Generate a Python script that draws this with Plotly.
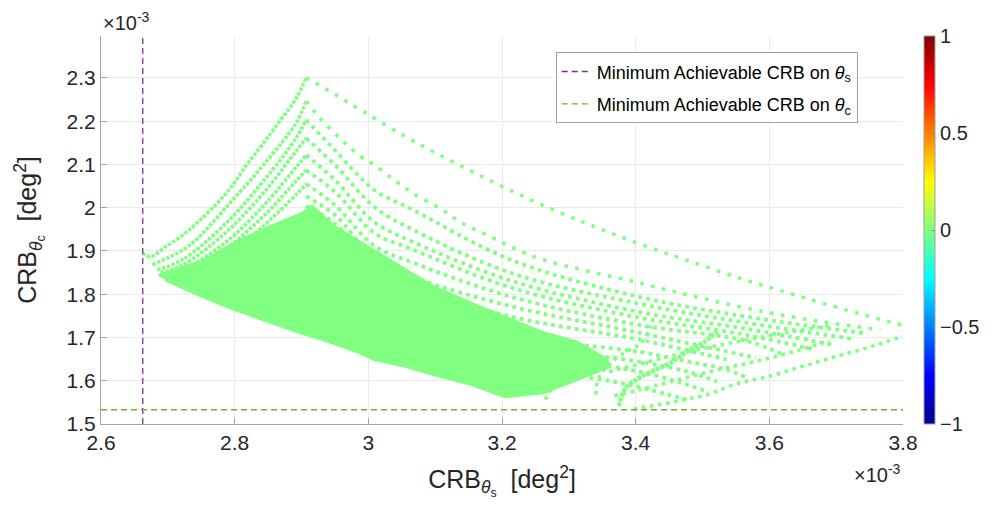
import plotly.graph_objects as go

# ---- values in units of 1e-3 deg^2 (axes carry the x10^-3 multiplier) ----
X_RANGE = [2.6, 3.8]
Y_RANGE = [1.5, 2.397]
X_TICKS = [2.6, 2.8, 3.0, 3.2, 3.4, 3.6, 3.8]
Y_TICKS = [1.5, 1.6, 1.7, 1.8, 1.9, 2.0, 2.1, 2.2, 2.3]

MIN_CRB_S = 2.6625   # minimum achievable CRB on theta_s
MIN_CRB_C = 1.5330   # minimum achievable CRB on theta_c

CB_RANGE = [-1, 1]
CB_TICKS = [-1, -0.5, 0, 0.5, 1]

# densely filled core of the scatter cloud (outline)
DENSE_X = [2.686, 2.755, 2.804, 2.852, 2.901, 2.916, 2.950, 2.999, 3.048, 3.097,
           3.165, 3.214, 3.262, 3.312, 3.353, 3.360, 3.312, 3.262, 3.204, 3.155,
           3.107, 3.057, 3.009, 2.989, 2.940, 2.892, 2.843, 2.794, 2.745, 2.696]
DENSE_Y = [1.843, 1.879, 1.922, 1.956, 1.987, 2.003, 1.956, 1.910, 1.864, 1.818,
           1.772, 1.741, 1.711, 1.690, 1.653, 1.632, 1.602, 1.572, 1.563, 1.591,
           1.610, 1.633, 1.649, 1.664, 1.691, 1.714, 1.741, 1.768, 1.799, 1.833]

# rising arms (upper-left) up to the ridge near CRB_s = 2.907e-3
ASC_X = [
    [2.662, 2.674, 2.696, 2.721, 2.745, 2.770, 2.794, 2.818, 2.843, 2.867, 2.892, 2.907],
    [2.677, 2.723, 2.745, 2.789, 2.848, 2.892, 2.907],
    [2.684, 2.723, 2.789, 2.848, 2.892, 2.907],
    [2.689, 2.723, 2.789, 2.848, 2.892, 2.907],
    [2.695, 2.723, 2.789, 2.848, 2.892, 2.907],
    [2.701, 2.745, 2.789, 2.848, 2.892, 2.907],
    [2.708, 2.745, 2.804, 2.848, 2.892, 2.907],
]
ASC_Y = [
    [1.895, 1.887, 1.909, 1.935, 1.967, 2.004, 2.046, 2.099, 2.149, 2.199, 2.253, 2.301],
    [1.868, 1.903, 1.930, 2.004, 2.108, 2.196, 2.247],
    [1.856, 1.881, 1.967, 2.071, 2.161, 2.203],
    [1.849, 1.868, 1.946, 2.043, 2.131, 2.161],
    [1.843, 1.856, 1.923, 2.013, 2.094, 2.122],
    [1.838, 1.863, 1.907, 1.988, 2.062, 2.087],
    [1.833, 1.852, 1.907, 1.965, 2.030, 2.055],
]

# falling arms from the ridge towards large CRB_s (outer two, sparse dots)
OUTER_X = [
    [2.907, 2.949, 2.994, 3.055, 3.103, 3.152, 3.203, 3.255, 3.310, 3.365, 3.423,
     3.483, 3.564, 3.648, 3.735, 3.798],
    [2.907, 2.928, 2.960, 2.989, 3.009, 3.039, 3.067, 3.107, 3.141, 3.184, 3.221,
     3.263, 3.321, 3.387, 3.447, 3.509, 3.575, 3.648, 3.731, 3.766],
]
OUTER_Y = [
    [2.301, 2.263, 2.221, 2.165, 2.125, 2.086, 2.047, 2.010, 1.974, 1.940, 1.907,
     1.875, 1.833, 1.794, 1.755, 1.729],
    [2.247, 2.207, 2.157, 2.118, 2.099, 2.064, 2.033, 1.999, 1.964, 1.932, 1.904,
     1.879, 1.856, 1.833, 1.810, 1.787, 1.765, 1.744, 1.725, 1.718],
]

# inner falling arms
DESC_X = [
    [2.907, 2.950, 3.009, 3.067, 3.214, 3.405, 3.566, 3.747],
    [2.907, 2.950, 3.009, 3.067, 3.214, 3.405, 3.566, 3.724],
    [2.907, 2.950, 3.009, 3.067, 3.214, 3.405, 3.566, 3.697],
    [2.907, 2.950, 3.009, 3.067, 3.214, 3.405, 3.566, 3.668],
    [2.907, 2.950, 3.009, 3.067, 3.214, 3.405, 3.566, 3.624],
    [2.907, 2.950, 3.009, 3.067, 3.214, 3.405, 3.580],
    [2.907, 2.950, 3.009, 3.067, 3.214, 3.405, 3.536],
    [3.312, 3.405, 3.478, 3.536, 3.566],
    [3.331, 3.405, 3.478, 3.522],
    [3.346, 3.405, 3.463, 3.507],
    [3.331, 3.390, 3.448, 3.478],
]
DESC_Y = [
    [2.203, 2.133, 2.041, 1.995, 1.879, 1.794, 1.748, 1.709],
    [2.161, 2.099, 2.002, 1.949, 1.849, 1.778, 1.734, 1.697],
    [2.122, 2.064, 1.967, 1.921, 1.831, 1.759, 1.720, 1.683],
    [2.087, 2.037, 1.942, 1.903, 1.815, 1.746, 1.706, 1.672],
    [2.055, 2.006, 1.912, 1.873, 1.794, 1.729, 1.692, 1.658],
    [2.027, 1.983, 1.884, 1.840, 1.772, 1.711, 1.653],
    [2.004, 1.963, 1.861, 1.815, 1.748, 1.695, 1.649],
    [1.683, 1.667, 1.644, 1.626, 1.607],
    [1.660, 1.644, 1.621, 1.598],
    [1.637, 1.621, 1.598, 1.575],
    [1.607, 1.591, 1.568, 1.556],
]

# rising families in the lower-right part
RISE_X = [
    [3.397, 3.458, 3.507, 3.551, 3.599, 3.649, 3.697, 3.746, 3.796],
    [3.368, 3.405, 3.453, 3.503, 3.551, 3.599, 3.649, 3.690],
    [3.341, 3.343, 3.356, 3.380, 3.405, 3.415, 3.423],
    [3.265, 3.273, 3.290, 3.316, 3.346, 3.375],
    [3.360, 3.419, 3.478, 3.551, 3.624, 3.697],
]
RISE_Y = [
    [1.534, 1.552, 1.568, 1.593, 1.610, 1.633, 1.655, 1.676, 1.701],
    [1.565, 1.579, 1.598, 1.618, 1.635, 1.652, 1.673, 1.692],
    [1.568, 1.600, 1.632, 1.662, 1.683, 1.702, 1.727],
    [1.556, 1.579, 1.602, 1.620, 1.639, 1.655],
    [1.621, 1.644, 1.667, 1.690, 1.711, 1.729],
]
# thick hooked branch
HOOK_X = [3.375, 3.378, 3.385, 3.400, 3.419, 3.453, 3.478, 3.503, 3.522]
HOOK_Y = [1.541, 1.560, 1.583, 1.602, 1.618, 1.642, 1.669, 1.690, 1.714]

PT_COLOR = "#80FF80"
JET = [[0.0, "#00008F"], [0.125, "#0000FF"], [0.375, "#00FFFF"],
       [0.625, "#FFFF00"], [0.875, "#FF0000"], [1.0, "#800000"]]
FONT = "Liberation Sans, Arial, Helvetica, sans-serif"
TXT = "#262626"

fig = go.Figure()

fig.add_trace(go.Scatter(x=DENSE_X, y=DENSE_Y, mode="lines", fill="toself",
                         fillcolor=PT_COLOR, line=dict(color=PT_COLOR, width=3),
                         showlegend=False, hoverinfo="skip"))


def dotted(xs, ys, dash, width=3.6):
    fig.add_trace(go.Scatter(x=xs, y=ys, mode="lines",
                             line=dict(color=PT_COLOR, width=width, shape="spline",
                                       dash=dash),
                             showlegend=False, hoverinfo="skip"))


for xs, ys in zip(ASC_X, ASC_Y):
    dotted(xs, ys, "3.4px,1.6px")
for xs, ys in zip(OUTER_X, OUTER_Y):
    dotted(xs, ys, "3.6px,7.5px")
for xs, ys in zip(DESC_X, DESC_Y):
    dotted(xs, ys, "3.8px,4.2px", width=3.8)
for xs, ys in zip(RISE_X, RISE_Y):
    dotted(xs, ys, "3.6px,4.6px")
dotted(HOOK_X, HOOK_Y, "4px,1px", width=4.5)

# colour bar carrier (value 0 -> same green as the points)
fig.add_trace(go.Scatter(
    x=[DENSE_X[20]], y=[DENSE_Y[20] + 0.05], mode="markers",
    marker=dict(size=4, color=[0], cmin=CB_RANGE[0], cmax=CB_RANGE[1],
                colorscale=JET, showscale=True,
                colorbar=dict(x=1.0257, xanchor="left", y=0.5, yanchor="middle",
                              len=1, lenmode="fraction", thickness=11,
                              xpad=0, ypad=0, outlinecolor="#a0a0a0",
                              outlinewidth=1, tickvals=CB_TICKS,
                              ticks="inside", ticklen=3, tickcolor="#808080",
                              tickfont=dict(family=FONT, size=20, color=TXT))),
    showlegend=False, hoverinfo="skip"))

fig.add_trace(go.Scatter(
    x=[MIN_CRB_S, MIN_CRB_S], y=Y_RANGE, mode="lines",
    line=dict(color="#7E2F8E", width=1.3, dash="6px,4px"),
    name="Minimum Achievable CRB on <i>θ</i><sub>s</sub>", legendgroup="a"))
fig.add_trace(go.Scatter(
    x=X_RANGE, y=[MIN_CRB_C, MIN_CRB_C], mode="lines",
    line=dict(color="#77AC30", width=1.3, dash="6px,4px"),
    name="Minimum Achievable CRB on <i>θ</i><sub>c</sub>", legendgroup="b"))

axis_common = dict(showgrid=True, gridcolor="#ebebeb", gridwidth=1,
                   showline=True, linecolor="#a6a6a6", linewidth=1,
                   ticks="inside", ticklen=6, tickcolor="#a6a6a6",
                   zeroline=False,
                   tickfont=dict(family=FONT, size=21, color=TXT))

fig.update_layout(
    width=995, height=513,
    margin=dict(l=101, r=76, t=36, b=89),
    paper_bgcolor="white", plot_bgcolor="white",
    font=dict(family=FONT, color=TXT),
    xaxis=dict(range=X_RANGE, tickvals=X_TICKS,
               title=dict(text="CRB<sub><i>θ</i><sub>s</sub></sub>  [deg<sup>2</sup>]",
                          font=dict(family=FONT, size=25, color=TXT),
                          standoff=17),
               **axis_common),
    yaxis=dict(range=Y_RANGE, tickvals=Y_TICKS,
               title=dict(text="CRB<sub><i>θ</i><sub>c</sub></sub>  [deg<sup>2</sup>]",
                          font=dict(family=FONT, size=25, color=TXT),
                          standoff=22),
               **axis_common),
    legend=dict(x=0.567, y=0.958, xanchor="left", yanchor="top",
                bgcolor="white", bordercolor="#a0a0a0", borderwidth=1,
                font=dict(family=FONT, size=18, color="#000000"),
                traceorder="grouped", tracegroupgap=6),
    annotations=[
        dict(text="×10<sup>-3</sup>", xref="paper", yref="paper", x=0, y=1,
             xanchor="left", yanchor="bottom", showarrow=False, yshift=0,
             font=dict(family=FONT, size=20, color=TXT)),
        dict(text="×10<sup>-3</sup>", xref="paper", yref="paper", x=1, y=-0.09,
             xanchor="right", yanchor="top", showarrow=False,
             font=dict(family=FONT, size=20, color=TXT)),
    ],
)

fig.write_html("out.html")
